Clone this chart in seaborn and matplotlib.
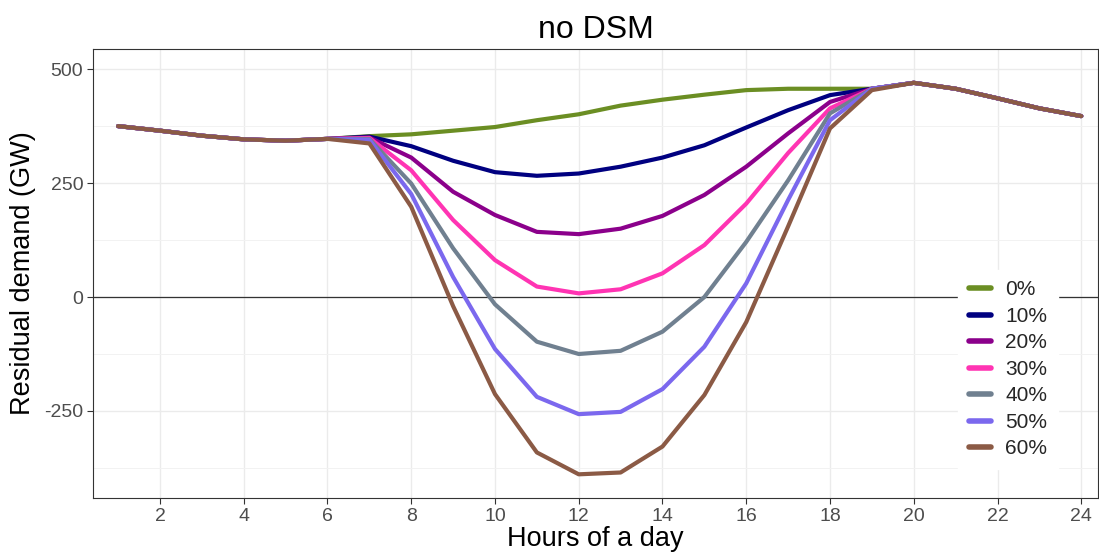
import numpy as np
import pandas as pd
import matplotlib
matplotlib.use("Agg")
import matplotlib.pyplot as plt
import seaborn as sns
from matplotlib.lines import Line2D

hours = list(range(1, 25))
common_start = [375, 365, 354, 346, 343, 347]
common_end = [470, 457, 436, 414, 397]

s0 = common_start + [353, 357, 365, 373, 388, 401, 420, 433, 444, 454, 457, 457, 457] + common_end
s10 = common_start + [352, 331, 299, 274, 266, 271, 286, 306, 333, 372, 410, 443, 457] + common_end
s20 = common_start + [350, 306, 231, 180, 143, 138, 150, 178, 224, 286, 359, 428, 457] + common_end
s30 = common_start + [349, 278, 169, 81, 23, 8, 17, 52, 114, 205, 316, 414, 457] + common_end
s40 = common_start + [347, 249, 107, -16, -98, -125, -118, -76, 0, 121, 256, 403, 457] + common_end
s50 = common_start + [345, 226, 44, -114, -219, -257, -252, -202, -109, 30, 213, 388, 457] + common_end
s60 = common_start + [337, 198, -20, -213, -341, -389, -385, -328, -215, -55, 155, 370, 454] + common_end

labels = ["0%", "10%", "20%", "30%", "40%", "50%", "60%"]
series = [s0, s10, s20, s30, s40, s50, s60]
colors = ["#6B8E23", "#000080", "#8B008B", "#FF34B3", "#708090", "#7B68EE", "#8B5A45"]
x_ticks = list(range(2, 25, 2))
y_ticks = [-250, 0, 250, 500]

df = pd.DataFrame({
    "hour": hours * len(labels),
    "value": sum(series, []),
    "share": np.repeat(labels, len(hours)),
})

sns.set_theme(style="white")
plt.rcParams["font.family"] = ["Liberation Sans", "DejaVu Sans"]

fig = plt.figure(figsize=(10.99, 5.58), dpi=100)
ax = fig.add_axes([0.0846, 0.1075, 0.9145, 0.8045])

# grid
for v in x_ticks:
    ax.axvline(v, color="#EBEBEB", lw=1.0, zorder=0)
for v in [-375, -125, 125, 375]:
    ax.axhline(v, color="#F2F2F2", lw=0.7, zorder=0)
for v in y_ticks:
    ax.axhline(v, color="#EBEBEB", lw=1.0, zorder=0)
ax.axhline(0, color="#333333", lw=0.9, zorder=1)

palette = dict(zip(labels, colors))
sns.lineplot(data=df, x="hour", y="value", hue="share", palette=palette,
             hue_order=labels, lw=3.0, ax=ax, legend=False, zorder=3)

ax.set_xlim(0.4, 24.4)
ax.set_ylim(-441, 544)
ax.set_xticks(x_ticks)
ax.set_yticks(y_ticks)
ax.set_xticklabels([str(t) for t in x_ticks])
ax.set_yticklabels([str(t) for t in y_ticks])
ax.tick_params(axis="both", which="major", length=4, width=0.8, color="#333333",
               labelsize=14, labelcolor="#4D4D4D", pad=3, direction="out",
               bottom=True, left=True)
for sp in ax.spines.values():
    sp.set_color("#333333")
    sp.set_linewidth(0.8)

ax.set_xlabel("Hours of a day", fontsize=19.5, color="black", labelpad=1)
ax.set_ylabel("Residual demand (GW)", fontsize=19.5, color="black", labelpad=6)
ax.set_title("no DSM", fontsize=23, color="black", pad=8)

handles = [Line2D([0], [0], color=c, lw=4) for c in colors]
leg = ax.legend(handles, labels, loc="upper left", bbox_to_anchor=(0.861, 0.508),
                frameon=True, fontsize=15, handlelength=1.05, handletextpad=0.7,
                labelspacing=0.36, borderpad=0.5, borderaxespad=0)
leg.get_frame().set_facecolor("white")
leg.get_frame().set_edgecolor("white")
leg.get_frame().set_alpha(1)
leg.get_frame().set_boxstyle("square", pad=0)
leg.set_zorder(5)

fig.savefig("out.png", dpi=100)
